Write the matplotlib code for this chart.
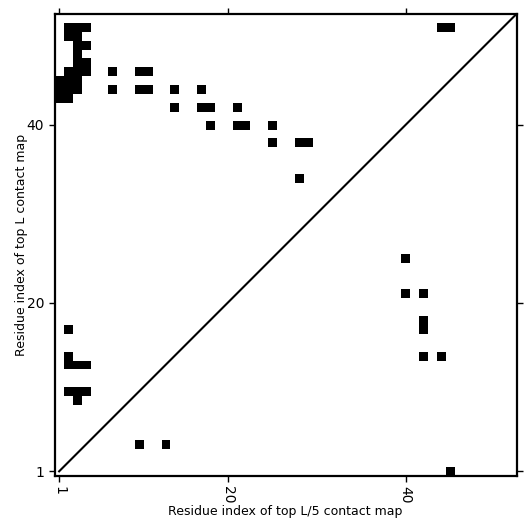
import numpy as np
from matplotlib import pyplot as plt

# Sequence length and contact positions (residue i, residue j)
seq_len = 52

top_l_x = [2, 3, 4, 44, 45,
           2, 3,
           3, 4,
           3,
           3, 4,
           2, 3, 4, 7, 10, 11,
           1, 2, 3,
           1, 2, 3, 7, 10, 11, 14, 17,
           1, 2,
           14, 17, 18, 21,
           18, 21, 22, 25,
           25, 28, 29,
           28]
top_l_y = [51, 51, 51, 51, 51,
           50, 50,
           49, 49,
           48,
           47, 47,
           46, 46, 46, 46, 46, 46,
           45, 45, 45,
           44, 44, 44, 44, 44, 44, 44, 44,
           43, 43,
           42, 42, 42, 42,
           40, 40, 40, 40,
           38, 38, 38,
           34]

top_l5_x = [2, 2, 2, 3, 4, 2, 3, 4, 3, 10, 13,
            40, 40, 42, 42, 42, 42, 44, 45]
top_l5_y = [17, 14, 13, 13, 13, 10, 10, 10, 9, 4, 4,
            25, 21, 21, 18, 17, 14, 14, 1]

ticks = [1, 20, 40]


def build_map() -> np.ndarray:
    contact = np.zeros((seq_len, seq_len))
    for x, y in zip(top_l_x + top_l5_x, top_l_y + top_l5_y):
        contact[y - 1, x - 1] = 1
    return contact


def main() -> None:
    figure = plt.figure(figsize=(5.31, 5.31), dpi=100)
    axes = figure.add_axes([0.103, 0.104, 0.870, 0.870])

    axes.imshow(build_map(), cmap='Greys', origin='lower', vmin=0, vmax=1,
                extent=(0.5, seq_len + 0.5, 0.5, seq_len + 0.5),
                interpolation='nearest', aspect='auto')
    axes.plot([1, seq_len + 0.5], [1, seq_len + 0.5], color='black', linewidth=1.5)

    axes.set_xlim(0.5, seq_len + 0.5)
    axes.set_ylim(0.5, seq_len + 0.5)
    axes.set_xticks(ticks)
    axes.set_yticks(ticks)
    axes.set_xticklabels([str(t) for t in ticks], rotation=270)
    axes.tick_params(top=True, right=True, direction='out', length=4, width=1)
    for spine in axes.spines.values():
        spine.set_linewidth(1.6)

    axes.set_xlabel('Residue index of top L/5 contact map', fontsize=9, labelpad=1)
    axes.set_ylabel('Residue index of top L contact map', fontsize=9, labelpad=-1)

    figure.savefig('out.png', dpi=100)


if __name__ == '__main__':
    main()
